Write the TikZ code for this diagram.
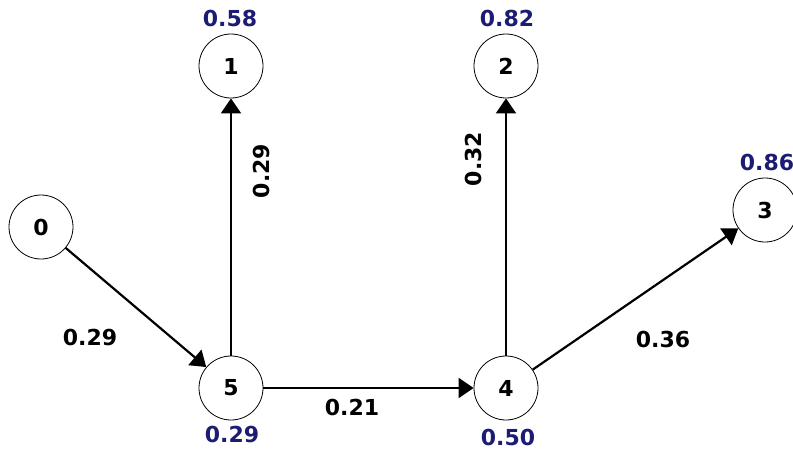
\documentclass[tikz,border=0pt]{standalone}
\usepackage{fontspec}
\setmainfont{DejaVu Sans}
\usetikzlibrary{arrows.meta}
\definecolor{valblue}{RGB}{28,28,115}
\begin{document}
\begin{tikzpicture}[x=1pt,y=-1pt,
  vert/.style={circle,draw,line width=0.8pt,minimum size=64pt,inner sep=0pt,font=\bfseries\fontsize{22}{26}\selectfont},
  val/.style={text=valblue,inner sep=0pt,font=\bfseries\fontsize{22}{26}\selectfont},
  elab/.style={inner sep=0pt,font=\bfseries\fontsize{22}{26}\selectfont},
  edge/.style={line width=2.2pt,-{Triangle[length=15pt,width=20pt]}}]
\useasboundingbox[fill=white] (0,0) rectangle (793,455);
\node[vert] (n0) at (41,227) {0};
\node[vert] (n1) at (231,66) {1};
\node[vert] (n2) at (506,66) {2};
\node[vert] (n3) at (765,210) {3};
\node[vert] (n4) at (506,388) {4};
\node[vert] (n5) at (231,388) {5};
\node[val] (v1) at (230,18) {0.58};
\node[val] (v2) at (507,18) {0.82};
\node[val] (v3) at (767,162) {0.86};
\node[val] (v5) at (232,434) {0.29};
\node[val] (v4) at (508,437) {0.50};
\draw[edge] (n0) -- (n5);
\draw[edge] (n5) -- (n1);
\draw[edge] (n5) -- (n4);
\draw[edge] (n4) -- (n2);
\draw[edge] (n4) -- (n3);
\node[elab] (e05) at (90,337) {0.29};
\node[elab,rotate=90] (e51) at (261,171) {0.29};
\node[elab] (e54) at (352,407) {0.21};
\node[elab,rotate=90] (e42) at (473,159) {0.32};
\node[elab] (e43) at (663,339) {0.36};
\end{tikzpicture}
\end{document}
